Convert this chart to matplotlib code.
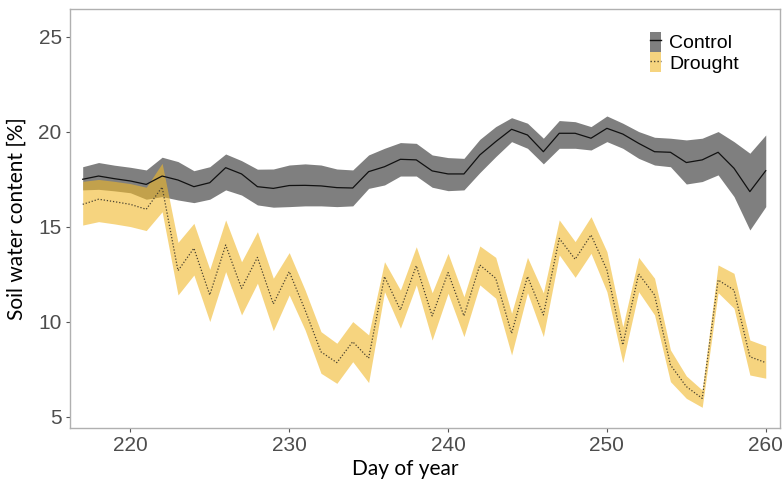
import numpy as np
import matplotlib.pyplot as plt
from matplotlib.patches import Patch
from matplotlib.lines import Line2D

days = list(range(217, 261))

# control treatment: mean and band limits
control_mean = [17.51, 17.68, 17.54, 17.42, 17.24, 17.68, 17.47, 17.12, 17.33, 18.12,
                17.79, 17.12, 17.03, 17.18, 17.19, 17.16, 17.07, 17.05, 17.91, 18.17,
                18.56, 18.53, 17.95, 17.79, 17.79, 18.79, 19.49, 20.14, 19.84, 18.96,
                19.93, 19.93, 19.67, 20.19, 19.89, 19.40, 18.96, 18.93, 18.39, 18.53,
                18.93, 18.09, 16.86, 17.96]
control_hi = [18.17, 18.39, 18.25, 18.14, 18.00, 18.67, 18.44, 17.96, 18.17, 18.84,
              18.49, 18.04, 18.05, 18.26, 18.32, 18.26, 18.05, 18.00, 18.79, 19.14,
              19.44, 19.40, 18.79, 18.65, 18.61, 19.61, 20.28, 20.75, 20.46, 19.67,
              20.60, 20.54, 20.28, 20.84, 20.46, 20.02, 19.72, 19.67, 19.58, 19.67,
              20.02, 19.49, 18.88, 19.84]
control_lo = [16.95, 16.98, 16.90, 16.80, 16.46, 16.60, 16.42, 16.28, 16.46, 16.95,
              16.68, 16.16, 16.04, 16.07, 16.11, 16.11, 16.07, 16.11, 17.03, 17.21,
              17.68, 17.68, 17.09, 16.91, 16.95, 17.86, 18.70, 19.49, 19.14, 18.32,
              19.14, 19.14, 19.05, 19.49, 19.14, 18.61, 18.26, 18.17, 17.26, 17.39,
              17.74, 16.60, 14.84, 16.07]

# drought treatment
drought_mean = [16.19, 16.46, 16.33, 16.19, 15.93, 17.10, 12.70, 13.88, 11.42, 14.05,
                11.77, 13.40, 10.95, 12.65, 10.63, 8.43, 7.86, 8.96, 8.09, 12.39,
                10.63, 12.96, 10.32, 12.60, 10.32, 13.00, 12.30, 9.40, 12.39, 10.37,
                14.40, 13.30, 14.58, 12.74, 8.79, 12.53, 11.42, 7.74, 6.60, 5.98,
                12.21, 11.68, 8.17, 7.86]
drought_hi = [17.40, 17.50, 17.40, 17.28, 17.09, 18.35, 14.19, 15.19, 12.77, 15.37,
              13.17, 14.75, 12.30, 13.65, 11.68, 9.49, 8.88, 10.02, 9.32, 13.17,
              11.68, 13.96, 11.54, 13.61, 11.33, 14.00, 13.40, 10.46, 13.40, 11.54,
              15.37, 14.23, 15.54, 13.70, 9.75, 13.40, 12.30, 8.53, 7.16, 6.42,
              13.00, 12.56, 9.05, 8.74]
drought_lo = [15.10, 15.28, 15.16, 15.02, 14.81, 15.80, 11.42, 12.47, 10.02, 12.65,
              10.37, 12.04, 9.54, 11.42, 9.58, 7.30, 6.77, 7.91, 6.81, 11.59,
              9.67, 11.95, 9.05, 11.51, 9.23, 11.95, 11.25, 8.26, 11.54, 9.23,
              13.53, 12.35, 13.61, 11.59, 7.86, 11.59, 10.37, 6.86, 5.98, 5.51,
              11.54, 10.72, 7.21, 7.04]

yticks = [5, 10, 15, 20, 25]
xticks = [220, 230, 240, 250, 260]

gray_fill = '#7f7f7f'
yellow_fill = '#f0b82a'
tick_font = ['Liberation Sans Narrow', 'Liberation Sans', 'DejaVu Sans']

fig = plt.figure(figsize=(7.82, 4.84), dpi=100)
ax = fig.add_axes([0.0895, 0.1157, 0.908, 0.8657])

ax.fill_between(days, control_lo, control_hi, color=gray_fill, lw=0)
ax.fill_between(days, drought_lo, drought_hi, color=yellow_fill, alpha=0.6, lw=0)
ax.plot(days, control_mean, color='#111111', lw=0.9)
ax.plot(days, drought_mean, color='#4a4230', lw=0.9, ls=(0, (1, 1.5)))

ax.set_xlim(216.2, 260.9)
ax.set_ylim(4.42, 26.47)
ax.set_xticks(xticks)
ax.set_yticks(yticks)
for lab in ax.get_xticklabels() + ax.get_yticklabels():
    lab.set_family(tick_font)
    lab.set_fontsize(15)
    lab.set_color('#4d4d4d')
ax.tick_params(length=3, width=0.8, color='#555555', pad=3)
for sp in ax.spines.values():
    sp.set_color('#b0b0b0')
    sp.set_linewidth(1.0)

ax.set_xlabel('Day of year', fontsize=15, family='Lato', color='black', labelpad=2)
ax.xaxis.set_label_coords(0.472, -0.075)
ax.set_ylabel('Soil water content [%]', fontsize=15, family='Lato', color='black', labelpad=8)

handles = [
    (Patch(facecolor=gray_fill, lw=0), Line2D([], [], color='#111111', lw=1)),
    (Patch(facecolor=yellow_fill, alpha=0.6, lw=0), Line2D([], [], color='#4a4230', lw=1, ls=(0, (1, 1.5)))),
]
leg = ax.legend(handles, ['Control', 'Drought'], loc='upper right', bbox_to_anchor=(0.956, 0.969),
                frameon=False, borderpad=0, handlelength=0.55, handleheight=1.2, handletextpad=0.45,
                labelspacing=0.0, prop={'family': 'Liberation Sans', 'size': 14})

fig.savefig('out.png', dpi=100)
